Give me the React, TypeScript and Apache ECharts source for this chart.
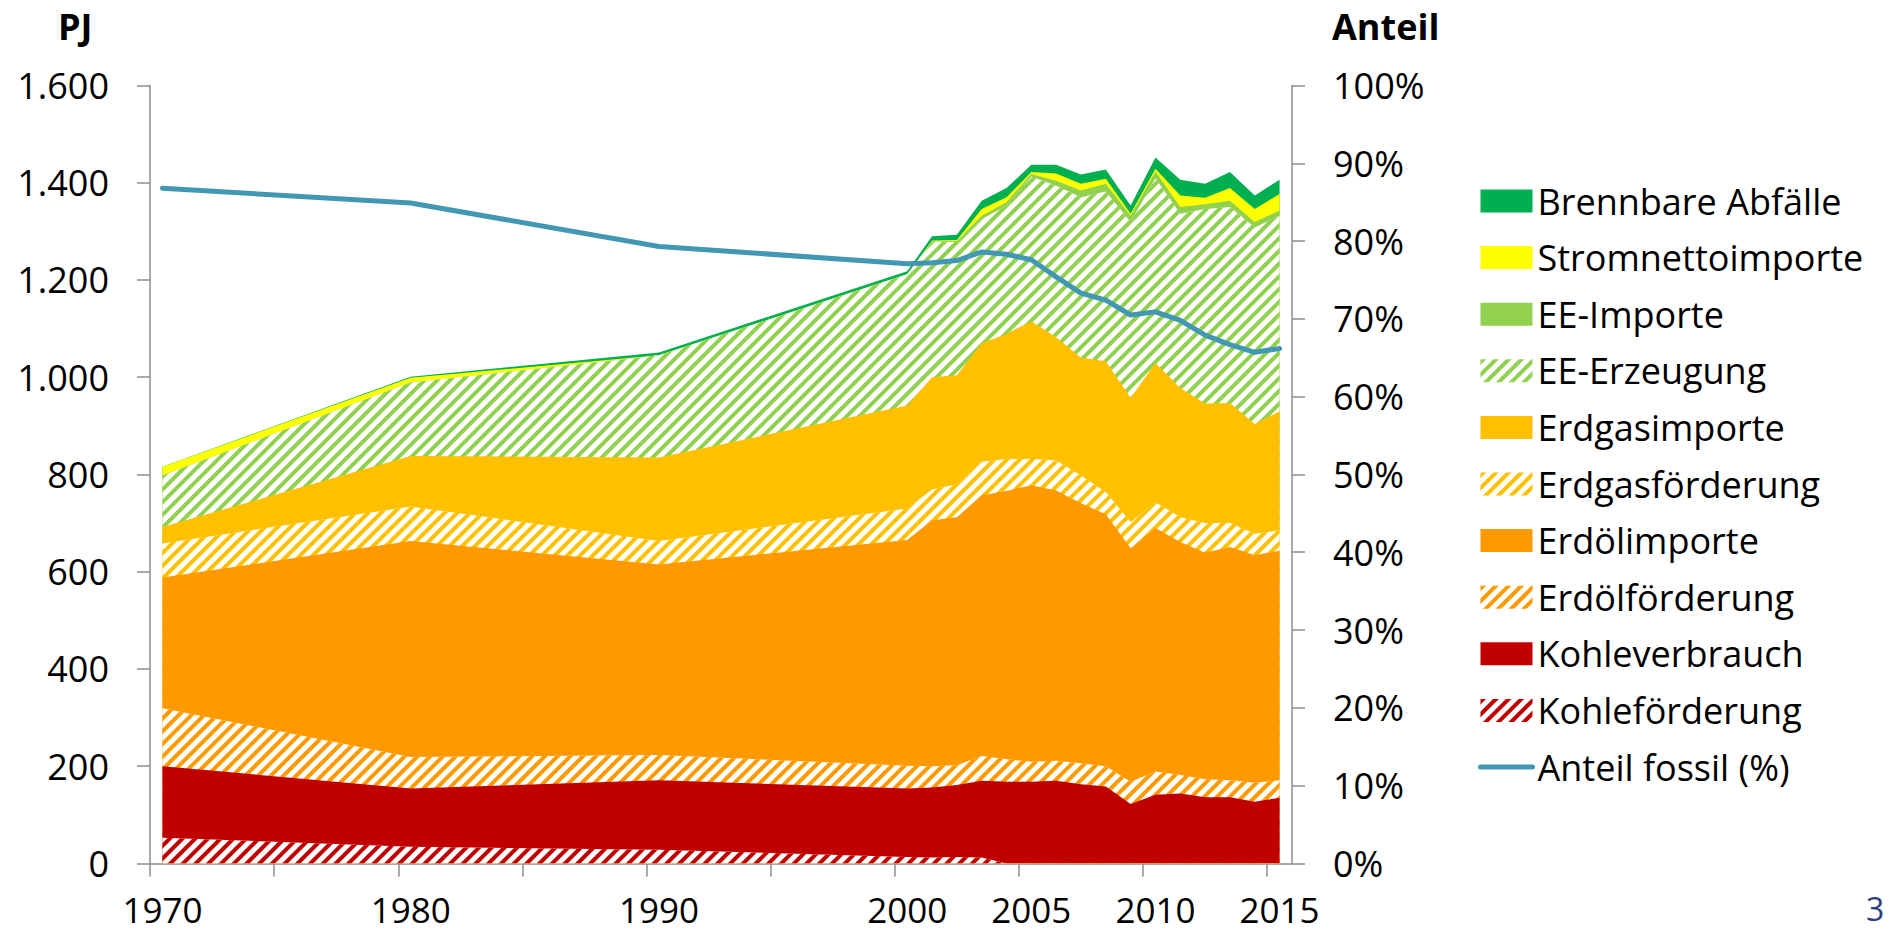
import React, { useEffect, useRef } from 'react';
import * as echarts from 'echarts';

const YEARS = [1970, 1980, 1990, 2000, 2001, 2002, 2003, 2004, 2005, 2006, 2007, 2008, 2009, 2010, 2011, 2012, 2013, 2014, 2015];

const KOHLE_FOERDERUNG = [53, 34, 28, 13, 12, 13, 12, 0, 0, 0, 0, 0, 0, 0, 0, 0, 0, 0, 0];
const KOHLE_VERBRAUCH = [147, 120, 143, 141, 144, 148, 158, 168, 168, 170, 163, 158, 122, 141, 144, 136, 136, 127, 135];
const OEL_FOERDERUNG = [119, 65, 52, 47, 44, 41, 51, 46, 41, 41, 43, 42, 46, 48, 38, 37, 35, 39, 36];
const OEL_IMPORTE = [269, 444, 392, 464, 506, 510, 536, 552, 569, 556, 535, 518, 480, 501, 479, 466, 480, 468, 472];
const GAS_FOERDERUNG = [70, 71, 48, 65, 63, 68, 69, 66, 54, 62, 57, 46, 54, 53, 51, 61, 49, 44, 42];
const GAS_IMPORTE = [34, 104, 172, 212, 231, 224, 244, 257, 283, 253, 242, 269, 255, 286, 266, 246, 247, 226, 245];
const EE_ERZEUGUNG = [106, 151, 210, 270, 279, 274, 255, 264, 298, 312, 330, 349, 362, 380, 358, 400, 403, 404, 402];
const EE_IMPORTE = [0, 0, 0, 0, 1, 2, 7, 7, 5, 10, 14, 16, 13, 14, 14, 10, 13, 11, 11];
const STROM_IMPORTE = [18, 10, 0, 0, 1, 2, 14, 10, 4, 15, 14, 10, 4, 6, 24, 13, 26, 27, 34];
const ABFAELLE = [0, 2, 6, 6, 9, 11, 17, 19, 15, 18, 19, 19, 17, 23, 32, 29, 33, 28, 29];
const ANTEIL_FOSSIL = [86.8, 84.9, 79.3, 77.1, 77.2, 77.5, 78.6, 78.3, 77.6, 75.4, 73.3, 72.4, 70.5, 70.9, 69.8, 67.9, 66.7, 65.7, 66.2];

const X_TICKS = [1969.5, 1974.5, 1979.5, 1984.5, 1989.5, 1994.5, 1999.5, 2004.5, 2009.5, 2014.5];
const X_LABELS = [1970, 1980, 1990, 2000, 2005, 2010, 2015];

const FONT = '"Open Sans", "Noto Sans", sans-serif';
const FS = 36;
const AXIS = '#8C8C8C';
const LINE = '#4297B3';

// bottom-to-top stack order
const LAYERS = [
  { name: 'Kohleförderung', values: KOHLE_FOERDERUNG, color: '#C00000', hatch: true },
  { name: 'Kohleverbrauch', values: KOHLE_VERBRAUCH, color: '#C00000', hatch: false },
  { name: 'Erdölförderung', values: OEL_FOERDERUNG, color: '#FF9900', hatch: true },
  { name: 'Erdölimporte', values: OEL_IMPORTE, color: '#FF9900', hatch: false },
  { name: 'Erdgasförderung', values: GAS_FOERDERUNG, color: '#FFC000', hatch: true },
  { name: 'Erdgasimporte', values: GAS_IMPORTE, color: '#FFC000', hatch: false },
  { name: 'EE-Erzeugung', values: EE_ERZEUGUNG, color: '#92D050', hatch: true },
  { name: 'EE-Importe', values: EE_IMPORTE, color: '#92D050', hatch: false },
  { name: 'Stromnettoimporte', values: STROM_IMPORTE, color: '#FFFF00', hatch: false },
  { name: 'Brennbare Abfälle', values: ABFAELLE, color: '#00B050', hatch: false },
];

const fmtPJ = (v: number) => (v >= 1000 ? `${Math.floor(v / 1000)}.${String(v % 1000).padStart(3, '0')}` : String(v));

function buildAreaSeries() {
  // cumulative tops, drawn from the top layer down so each lower layer covers the one above it
  const cum: number[][] = [];
  LAYERS.forEach((l, k) => {
    cum.push(l.values.map((v, i) => v + (k > 0 ? cum[k - 1][i] : 0)));
  });
  const out: any[] = [];
  for (let k = LAYERS.length - 1; k >= 0; k--) {
    const l = LAYERS[k];
    const data = YEARS.map((y, i) => [y, cum[k][i]]);
    const base: any = {
      name: l.name,
      type: 'line',
      data,
      symbol: 'none',
      lineStyle: { width: 0 },
      emphasis: { disabled: true },
      silent: true,
      z: 2,
    };
    if (l.hatch) {
      base.itemStyle = {
        color: '#FFFFFF',
        decal: {
          symbol: 'rect',
          symbolSize: 1,
          color: l.color,
          dashArrayX: [1, 0],
          dashArrayY: [4, 5],
          rotation: -Math.PI / 4,
        },
      };
      base.areaStyle = { opacity: 1 };
    } else {
      base.itemStyle = { color: l.color };
      base.areaStyle = { color: l.color, opacity: 1 };
    }
    out.push(base);
  }
  return out;
}

export default function App() {
  const ref = useRef<HTMLDivElement>(null);
  useEffect(() => {
    const chart = echarts.init(ref.current!, null, { renderer: 'svg' });
    const option: any = {
      animation: false,
      backgroundColor: '#FFFFFF',
      grid: { left: 150, right: 601, top: 85.5, bottom: 72.6, containLabel: false },
      xAxis: {
        type: 'value',
        min: 1969.5,
        max: 2015.5,
        axisLine: { show: true, lineStyle: { color: AXIS, width: 1.5 } },
        axisTick: { show: true, length: 13, customValues: X_TICKS, lineStyle: { color: AXIS, width: 1.5 } },
        axisLabel: {
          customValues: X_LABELS,
          margin: 31,
          fontSize: 35,
          lineHeight: 30,
          color: '#000',
          fontFamily: FONT,
          formatter: (v: number) => String(v),
        },
        splitLine: { show: false },
      },
      yAxis: [
        {
          type: 'value',
          min: 0,
          max: 1600,
          interval: 200,
          axisLine: { show: true, lineStyle: { color: AXIS, width: 1.5 } },
          axisTick: { show: true, length: 13, lineStyle: { color: AXIS, width: 1.5 } },
          axisLabel: { margin: 41, fontSize: FS, color: '#000', fontFamily: FONT, formatter: fmtPJ },
          splitLine: { show: false },
        },
        {
          type: 'value',
          position: 'right',
          min: 0,
          max: 100,
          interval: 10,
          axisLine: { show: true, lineStyle: { color: AXIS, width: 1.5 } },
          axisTick: { show: true, length: 13, lineStyle: { color: AXIS, width: 1.5 } },
          axisLabel: { margin: 41, fontSize: FS, color: '#000', fontFamily: FONT, formatter: '{value}%' },
          splitLine: { show: false },
        },
      ],
      legend: {
        orient: 'vertical',
        left: 1478,
        top: 183,
        padding: 0,
        itemWidth: 52,
        itemHeight: 23,
        itemGap: 20.6,
        selectedMode: false,
        textStyle: { fontSize: FS, color: '#000', fontFamily: FONT },
        data: [
          { name: 'Brennbare Abfälle', icon: 'rect' },
          { name: 'Stromnettoimporte', icon: 'rect' },
          { name: 'EE-Importe', icon: 'rect' },
          { name: 'EE-Erzeugung', icon: 'rect' },
          { name: 'Erdgasimporte', icon: 'rect' },
          { name: 'Erdgasförderung', icon: 'rect' },
          { name: 'Erdölimporte', icon: 'rect' },
          { name: 'Erdölförderung', icon: 'rect' },
          { name: 'Kohleverbrauch', icon: 'rect' },
          { name: 'Kohleförderung', icon: 'rect' },
          { name: 'Anteil fossil (%)', itemStyle: { opacity: 0 }, lineStyle: { width: 5, cap: 'round' } },
        ],
      },
      graphic: [
        { type: 'text', left: 58, top: 8, style: { text: 'PJ', font: `bold ${FS}px ${FONT}`, fill: '#000' } },
        { type: 'text', left: 1332, top: 8, style: { text: 'Anteil', font: `bold ${FS}px ${FONT}`, fill: '#000' } },
        { type: 'text', left: 1866, top: 892, style: { text: '3', font: `32px ${FONT}`, fill: '#2F3E7E' } },
      ],
      series: [
        ...buildAreaSeries(),
        {
          name: 'Anteil fossil (%)',
          type: 'line',
          yAxisIndex: 1,
          data: YEARS.map((y, i) => [y, ANTEIL_FOSSIL[i]]),
          symbol: 'none',
          lineStyle: { width: 5, color: LINE, cap: 'round', join: 'round' },
          itemStyle: { color: LINE },
          emphasis: { disabled: true },
          z: 5,
        },
      ],
    };
    chart.setOption(option);
    return () => chart.dispose();
  }, []);
  return (
    <div
      ref={ref}
      style={{ position: 'fixed', left: 0, top: 0, width: 1893, height: 936, background: '#fff' }}
    />
  );
}
